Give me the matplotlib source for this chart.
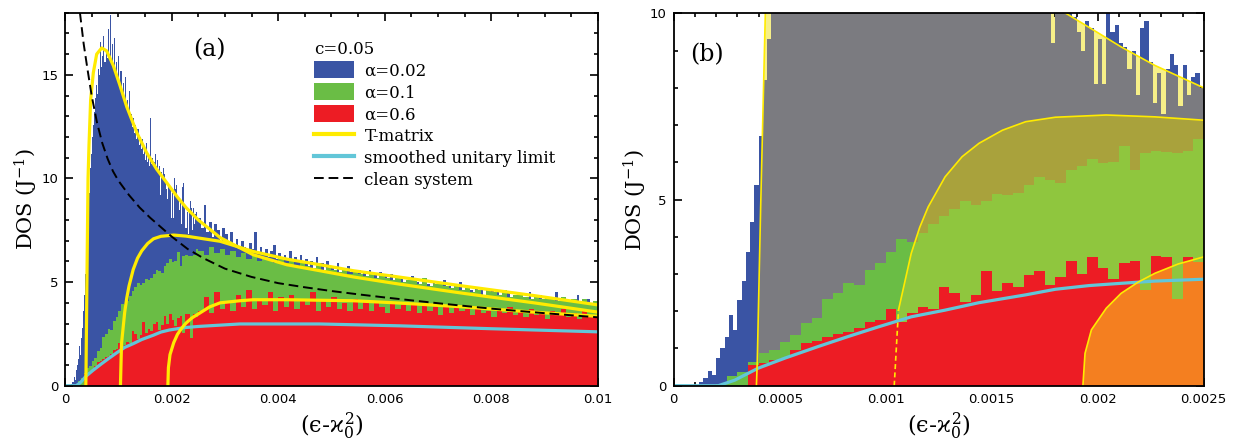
import numpy as np
import matplotlib.pyplot as plt
import matplotlib.patches as mpatches
from matplotlib.lines import Line2D
from matplotlib.ticker import MultipleLocator, FuncFormatter

plt.rcParams['mathtext.fontset'] = 'custom'
plt.rcParams['mathtext.rm'] = 'DejaVu Serif'
plt.rcParams['mathtext.it'] = 'DejaVu Serif'

# histogram heights, alpha = 0.02 (bins 2e-5 up to 0.0025, then 5e-5)
blue_fine = [0, 0, 0, 0, 0, 0, 0.1, 0.2, 0.4, 0.3,
             0.75, 1.0, 1.3, 1.9, 1.5, 2.3, 2.8, 3.6, 4.4, 5.4,
             6.7, 8.2, 9.3, 10.5, 11.2, 12.0, 12.6, 13.2, 13.9, 14.5,
             14.1, 15.3, 15.0, 16.6, 15.4, 15.9, 16.9, 15.6, 16.2, 15.8,
             17.2, 16.0, 17.9, 15.7, 16.5, 15.4, 16.8, 15.1, 15.6, 14.8,
             15.9, 14.5, 15.2, 14.1, 14.6, 13.9, 14.9, 13.5, 13.8, 13.2,
             14.2, 12.9, 13.1, 12.5, 12.9, 12.2, 12.6, 11.9, 12.4, 11.6,
             12.0, 11.4, 11.9, 11.2, 11.5, 10.9, 11.7, 10.8, 11.2, 10.6,
             12.9, 10.7, 11.0, 10.8, 11.2, 10.6, 10.9, 10.4, 10.6, 9.2,
             10.3, 10.1, 10.5, 10.2, 9.9, 9.5, 9.0, 9.8, 9.6, 8.1,
             9.3, 8.1, 10.0, 9.5, 9.7, 9.2, 9.1, 8.5, 9.0, 7.8,
             9.6, 9.8, 8.7, 7.6, 8.4, 7.3, 8.5, 8.9, 8.6, 7.5,
             8.6, 7.8, 8.3, 8.4, 8.0]
blue_coarse = [8.1, 7.6, 8.7, 7.4, 7.9, 7.2, 7.8, 7.5, 7.0, 7.6,
               7.3, 6.9, 7.4, 6.8, 7.1, 6.6, 7.0, 6.7, 6.5, 6.9,
               6.6, 7.4, 6.4, 6.7, 6.3, 6.6, 6.2, 6.5, 6.8, 6.1,
               6.4, 6.0, 6.3, 6.1, 6.5, 5.9, 6.2, 6.0, 6.3, 5.8,
               6.1, 5.8, 6.0, 5.7, 6.2, 5.8, 5.9, 5.6, 6.0, 5.7,
               5.8, 5.6, 5.9, 5.5, 5.7, 5.4, 5.8, 5.5, 5.6, 5.3,
               5.6, 5.3, 5.5, 5.2, 5.6, 5.3, 5.4, 5.1, 5.5, 5.2,
               5.3, 5.1, 5.4, 5.0, 5.2, 4.9, 5.3, 5.0, 5.1, 4.9,
               5.3, 4.9, 5.0, 4.8, 5.1, 4.8, 4.9, 4.7, 5.0, 4.7,
               4.9, 4.7, 5.1, 4.6, 4.8, 4.6, 4.9, 4.5, 5.0, 4.6,
               4.7, 4.5, 4.6, 4.4, 4.7, 4.4, 4.6, 4.3, 4.5, 4.4,
               4.6, 4.3, 4.5, 4.2, 4.4, 4.3, 4.5, 4.2, 4.4, 4.1,
               4.4, 4.2, 4.3, 4.1, 4.5, 4.1, 4.3, 4.0, 4.4, 4.1,
               4.3, 4.0, 4.2, 4.0, 4.5, 4.0, 4.2, 3.9, 4.1, 4.0,
               4.2, 3.9, 4.4, 3.9, 4.1, 3.9, 4.2, 3.8, 4.1, 3.9]

# alpha = 0.1 and 0.6 (bins 5e-5 up to 0.0025, then 1e-4)
green_fine = [0, 0, 0, 0, 0.05, 0.25, 0.38, 0.63, 0.87, 0.96,
              1.18, 1.36, 1.68, 1.81, 2.34, 2.48, 2.76, 2.7, 3.1, 3.3,
              3.6, 3.93, 3.85, 4.1, 4.35, 4.55, 4.75, 4.97, 4.85, 4.97,
              5.14, 5.12, 5.18, 5.4, 5.6, 5.53, 5.44, 5.79, 5.9, 6.1,
              5.99, 6.0, 6.44, 5.79, 6.25, 6.3, 6.28, 6.24, 6.3, 6.62]
green_coarse = [6.5, 6.3, 6.7, 6.4, 6.6, 6.3, 6.5, 6.2, 6.4, 6.1,
                6.3, 6.0, 6.2, 6.1, 5.9, 6.1, 5.9, 6.0, 5.8, 5.9,
                5.8, 5.7, 5.9, 5.6, 5.7, 5.6, 5.5, 5.7, 5.4, 5.5,
                5.4, 5.3, 5.5, 5.2, 5.3, 5.2, 5.1, 5.3, 5.0, 5.1,
                5.1, 4.9, 5.2, 4.8, 4.9, 4.9, 4.8, 4.7, 4.8, 4.6,
                4.7, 4.5, 4.6, 4.4, 4.6, 4.5, 4.4, 4.6, 4.3, 4.4,
                4.4, 4.3, 4.2, 4.4, 4.2, 4.3, 4.2, 4.1, 4.3, 4.1,
                4.2, 4.1, 4.2, 4.0, 4.1]
red_fine = [0, 0, 0, 0, 0, 0, 0, 0.55, 0.6, 0.7,
            0.75, 0.95, 1.15, 1.2, 1.3, 1.4, 1.45, 1.54, 1.72, 1.77,
            2.05, 1.7, 1.96, 2.12, 2.05, 2.66, 2.48, 2.26, 2.44, 3.09,
            2.55, 2.76, 2.66, 2.97, 3.09, 2.7, 2.92, 3.36, 3.0, 3.45,
            3.15, 2.87, 3.29, 3.35, 2.56, 3.48, 3.46, 2.32, 3.45, 3.33]
red_coarse = [3.6, 4.3, 3.5, 4.5, 3.7, 4.1, 3.6, 4.4, 3.8, 4.6,
              3.7, 4.2, 3.9, 4.5, 3.6, 4.3, 3.8, 4.4, 3.7, 4.2,
              3.9, 4.5, 3.6, 4.1, 3.8, 4.3, 3.7, 4.0, 3.6, 4.2,
              3.7, 4.1, 3.6, 4.0, 3.8, 3.5, 4.0, 3.7, 3.9, 3.6,
              3.9, 3.5, 4.0, 3.6, 3.8, 3.4, 3.8, 3.5, 3.9, 3.6,
              3.7, 3.4, 3.8, 3.5, 3.6, 3.3, 3.7, 3.5, 3.8, 3.4,
              3.6, 3.3, 3.7, 3.4, 3.5, 3.2, 3.6, 3.4, 3.7, 3.3,
              3.5, 3.2, 3.6, 3.3, 3.4]

# T-matrix curves
t1_x = [0.00039, 0.000394, 0.00041, 0.000432, 0.00045, 0.000481, 0.000531, 0.000594,
        0.000688, 0.000781, 0.000906, 0.00103, 0.00116, 0.00135, 0.00153, 0.00172,
        0.00185, 0.00196, 0.00211, 0.00227, 0.0025, 0.00291, 0.00353, 0.00416,
        0.00478, 0.00541, 0.00628, 0.0075, 0.0088, 0.01]
t1_y = [0, 0.65, 4.8, 10.0, 11.6, 13.8, 15.1, 16.0,
        16.3, 16.16, 15.45, 14.5, 13.45, 12.2, 11.25, 10.45,
        10.0, 9.62, 9.1, 8.6, 8.0, 7.15, 6.32, 5.84,
        5.55, 5.25, 4.9, 4.45, 4.0, 3.55]
t2_x = [0.00104, 0.00106, 0.00112, 0.00116, 0.0012, 0.00128, 0.00136, 0.00144,
        0.00155, 0.00166, 0.0018, 0.00204, 0.00227, 0.0025, 0.00291, 0.00353,
        0.00416, 0.00478, 0.00541, 0.00628, 0.0075, 0.0088, 0.01]
t2_y = [0, 2.03, 3.55, 4.25, 4.8, 5.61, 6.15, 6.51,
        6.86, 7.09, 7.21, 7.27, 7.22, 7.13, 6.97, 6.48,
        6.11, 5.84, 5.55, 5.24, 4.8, 4.35, 3.9]
t3_x = [0.00193, 0.00194, 0.00197, 0.00204, 0.00211, 0.00219, 0.00227, 0.00238,
        0.0025, 0.00271, 0.00291, 0.00328, 0.00353, 0.00416, 0.00541, 0.00628,
        0.0075, 0.0088, 0.01]
t3_y = [0, 0.87, 1.5, 2.08, 2.48, 2.78, 3.02, 3.27,
        3.46, 3.8, 4.0, 4.1, 4.15, 4.15, 4.1, 3.99,
        3.8, 3.55, 3.35]

# smoothed unitary limit
uni_x = [0, 0.00021, 0.000288, 0.000398, 0.000524, 0.00068, 0.000822, 0.000965,
         0.00112, 0.00128, 0.00144, 0.00166, 0.0018, 0.00196, 0.00211, 0.00227,
         0.0025, 0.00328, 0.00478, 0.00628, 0.008, 0.01]
uni_y = [0, 0, 0.15, 0.47, 0.74, 1.05, 1.32, 1.58,
         1.85, 2.03, 2.23, 2.44, 2.59, 2.69, 2.75, 2.81,
         2.86, 2.98, 2.98, 2.89, 2.75, 2.6]

# clean system
clean_x = [0.00028, 0.00035, 0.00042, 0.0005, 0.0006, 0.0007, 0.0008, 0.0009,
           0.001, 0.0012, 0.0014, 0.0016, 0.0018, 0.002, 0.0023, 0.0026,
           0.003, 0.0035, 0.004, 0.0045, 0.005, 0.0055, 0.006, 0.007,
           0.008, 0.009, 0.01]
clean_y = [18.0, 16.5, 15.3, 14.0, 12.7, 11.7, 10.95, 10.35,
           9.9, 9.2, 8.6, 8.1, 7.65, 7.2, 6.6, 6.15,
           5.65, 5.25, 4.95, 4.75, 4.57, 4.41, 4.26, 3.98,
           3.72, 3.5, 3.3]

blue_h = np.array(blue_fine + blue_coarse)
blue_edges = np.concatenate([np.linspace(0, 0.0025, len(blue_fine) + 1),
                             np.linspace(0.0025, 0.01, len(blue_coarse) + 1)[1:]])
gr_edges = np.concatenate([np.linspace(0, 0.0025, len(green_fine) + 1),
                           np.linspace(0.0025, 0.01, len(green_coarse) + 1)[1:]])
green_h = np.array(green_fine + green_coarse)
red_h = np.array(red_fine + red_coarse)

c_blue = '#3a54a4'
c_green = '#6abd45'
c_red = '#ed1c24'
c_yel = '#ffeb00'
c_cyan = '#62c6d8'

serif = 'DejaVu Serif'
fmt = FuncFormatter(lambda v, p: '%g' % round(v, 6))

fig = plt.figure(figsize=(12.36, 4.43), dpi=100)
ax1 = fig.add_axes([0.0526, 0.1293, 0.4312, 0.842])
ax2 = fig.add_axes([0.5451, 0.1293, 0.4288, 0.8406])

# ---- panel (a)
ax1.stairs(blue_h, blue_edges, fill=True, color=c_blue, zorder=1)
ax1.stairs(green_h, gr_edges, fill=True, color=c_green, zorder=2)
ax1.stairs(red_h, gr_edges, fill=True, color=c_red, zorder=3)
ax1.plot(uni_x, uni_y, color=c_cyan, lw=2.3, zorder=4)
for tx, ty in [(t1_x, t1_y), (t2_x, t2_y), (t3_x, t3_y)]:
    ax1.plot(tx, ty, color=c_yel, lw=2.3, zorder=5)
ax1.plot(clean_x, clean_y, color='black', lw=1.4, dashes=(5, 2.5), zorder=6)

ax1.set_xlim(0, 0.01)
ax1.set_ylim(0, 18)
ax1.xaxis.set_major_locator(MultipleLocator(0.002))
ax1.xaxis.set_minor_locator(MultipleLocator(0.0005))
ax1.yaxis.set_major_locator(MultipleLocator(5))
ax1.yaxis.set_minor_locator(MultipleLocator(1))
ax1.text(0.27, 0.9, '(a)', transform=ax1.transAxes, fontsize=17,
         family=serif, ha='center', va='center')

handles = [mpatches.Patch(facecolor=c_blue, edgecolor='none'),
           mpatches.Patch(facecolor=c_green, edgecolor='none'),
           mpatches.Patch(facecolor=c_red, edgecolor='none'),
           Line2D([], [], color=c_yel, lw=3),
           Line2D([], [], color=c_cyan, lw=3),
           Line2D([], [], color='black', lw=1.4, dashes=(5, 2.5))]
labels = ['α=0.02', 'α=0.1', 'α=0.6', 'T-matrix', 'smoothed unitary limit', 'clean system']
leg = ax1.legend(handles, labels, title='c=0.05', loc='upper left',
                 bbox_to_anchor=(0.468, 0.925), frameon=False, borderpad=0,
                 prop={'family': serif, 'size': 12}, labelspacing=0.22,
                 handlelength=2.4, handleheight=1.2, handletextpad=0.6,
                 borderaxespad=0)
leg.get_title().set_fontfamily(serif)
leg.get_title().set_fontsize(12)
leg._legend_box.align = 'left'

# ---- panel (b)
p1 = ax2.fill_between(t1_x, 0, t1_y, color='#f6ef88', lw=0, zorder=1)
ax2.stairs(blue_h, blue_edges, fill=True, color=c_blue, zorder=2)
gray = ax2.stairs(blue_h, blue_edges, fill=True, color='#7b7b80', zorder=3)
gray.set_clip_path(p1.get_paths()[0], ax2.transData)
ax2.fill_between(t2_x, 0, t2_y, color='#a9a23c', lw=0, zorder=4)
p2 = ax2.fill_between(t2_x, 0, t2_y, color='none', lw=0, zorder=0)
ax2.stairs(green_h, gr_edges, fill=True, color=c_green, zorder=5)
yg = ax2.stairs(green_h, gr_edges, fill=True, color='#8fc63e', zorder=6)
yg.set_clip_path(p2.get_paths()[0], ax2.transData)
p3 = ax2.fill_between(t3_x, 0, t3_y, color='none', lw=0, zorder=0)
ax2.stairs(red_h, gr_edges, fill=True, color=c_red, zorder=7)
orng = ax2.stairs(red_h, gr_edges, fill=True, color='#f47f20', zorder=8)
orng.set_clip_path(p3.get_paths()[0], ax2.transData)
ax2.plot(uni_x, uni_y, color=c_cyan, lw=2.3, zorder=9)
ax2.plot(t1_x, t1_y, color=c_yel, lw=1.2, zorder=10)
ax2.plot(t2_x[1:], t2_y[1:], color=c_yel, lw=1.2, zorder=10)
ax2.plot(t2_x[:2], t2_y[:2], color=c_yel, lw=1.2, dashes=(3, 2), zorder=10)
ax2.plot(t3_x, t3_y, color=c_yel, lw=1.2, zorder=10)

ax2.set_xlim(0, 0.0025)
ax2.set_ylim(0, 10)
ax2.xaxis.set_major_locator(MultipleLocator(0.0005))
ax2.xaxis.set_minor_locator(MultipleLocator(0.0001))
ax2.yaxis.set_major_locator(MultipleLocator(5))
ax2.yaxis.set_minor_locator(MultipleLocator(1))
ax2.text(0.03, 0.89, '(b)', transform=ax2.transAxes, fontsize=17,
         family=serif, ha='left', va='center')

for ax in (ax1, ax2):
    ax.xaxis.set_major_formatter(fmt)
    ax.yaxis.set_major_formatter(fmt)
    ax.tick_params(which='both', direction='in', top=True, right=True,
                   width=1.2, labelsize=9.5, pad=5)
    ax.tick_params(which='major', length=6)
    ax.tick_params(which='minor', length=3)
    for s in ax.spines.values():
        s.set_linewidth(1.3)
        s.set_zorder(20)
    ax.set_xlabel(r'$(ϵ$-$\varkappa_{0}^{2})$', fontsize=16, labelpad=4)
    ax.set_ylabel('DOS (J$^{-1}$)', fontsize=15, family=serif, labelpad=1)

fig.savefig('out.png', dpi=100)
